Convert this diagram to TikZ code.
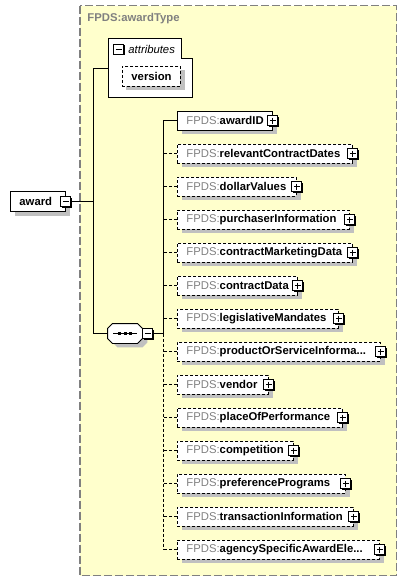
\documentclass[tikz,border=0pt]{standalone}
\usepackage{fontspec}
\setmainfont{Liberation Sans}
\usetikzlibrary{positioning, shadows}

\definecolor{typeyellow}{RGB}{255,255,204}
\definecolor{prefixgray}{RGB}{128,128,128}
\definecolor{shadowgray}{RGB}{192,192,192}
\definecolor{bordergray}{RGB}{128,128,128}

\newcommand{\fpds}[1]{\mbox{\textcolor{prefixgray}{FPDS:}\textbf{#1}}}
\newcommand{\tdots}{...}

\tikzset{
    boxshadow/.style={general shadow={shadow xshift=5pt, shadow yshift=-4pt, fill=shadowgray}},
    elembox/.style={draw, fill=white, line width=0.9pt, boxshadow, minimum height=19pt,
        inner xsep=9pt, inner ysep=0pt, anchor=west, align=left},
    optbox/.style={elembox, dash pattern=on 3pt off 2pt},
    optline/.style={line width=0.9pt, dash pattern=on 3pt off 2pt},
    expander/.style={draw, solid, fill=white, line width=0.9pt, minimum size=10pt, inner sep=0pt,
        general shadow={shadow xshift=1pt, shadow yshift=-1pt, fill=black}},
    minusbox/.style={expander, path picture={
        \draw[solid, line width=0.9pt] ([xshift=2pt]path picture bounding box.west)
            -- ([xshift=-2pt]path picture bounding box.east);}},
    plusbox/.style={expander, path picture={
        \draw[solid, line width=0.9pt] ([xshift=2pt]path picture bounding box.west)
            -- ([xshift=-2pt]path picture bounding box.east)
            ([yshift=-2pt]path picture bounding box.north)
            -- ([yshift=2pt]path picture bounding box.south);}},
}

\begin{document}
\begin{tikzpicture}[x=1pt, y=-1pt, line width=0.9pt,
    every node/.style={font=\fontsize{11.3}{13}\selectfont}]
\useasboundingbox (0,0) rectangle (407,581);

% complex type frame
\draw[bordergray, fill=typeyellow, line width=1.3pt, dash pattern=on 8pt off 3pt]
    (80,5.5) rectangle (396.5,575.5);
\node[anchor=west, text=prefixgray, inner sep=0pt] (typetitle) at (87,19) {\textbf{FPDS:awardType}};

% attributes group
\draw[fill=white] (108,38) -- (181,38) -- (181,58) -- (192,58) -- (192,97) -- (108,97) -- cycle;
\coordinate (attr) at (108,68);
\node[minusbox] (attrmin) at (118.7,49.3) {};
\node[anchor=west, inner sep=0pt] (attrlabel) at (128,49) {\itshape attributes};
\node[elembox, dash pattern=on 3pt off 2pt, minimum height=20pt, text width=40pt,
    general shadow={shadow xshift=4pt, shadow yshift=-4pt, fill=shadowgray}]
    (version) at (122,76) {\textbf{version}};

% root element
\node[elembox, text width=37pt, minimum height=20pt] (award) at (10,201.5) {\textbf{award}};
\node[minusbox] (awardmin) at (award.east) {};
\coordinate (fork) at (93,201.5);
\draw (awardmin.east) -- (fork);
\draw (attr) -| (fork);

% sequence compositor
\node[minimum width=34pt, minimum height=19pt, inner sep=0pt] (seq) at (125,333.5) {};
\draw[fill=white, boxshadow] ([yshift=-5pt]seq.north west) -- ([xshift=5pt]seq.north west)
    -- ([xshift=-5pt]seq.north east) -- ([yshift=-5pt]seq.north east)
    -- ([yshift=5pt]seq.south east) -- ([xshift=-5pt]seq.south east)
    -- ([xshift=5pt]seq.south west) -- ([yshift=5pt]seq.south west) -- cycle;
\draw[line width=0.7pt] ([xshift=-12pt]seq.center) -- ([xshift=12pt]seq.center);
\foreach \d in {-5.5,0,5.5}
    \fill ([xshift=\d pt-1.5pt, yshift=1.5pt]seq.center) rectangle ++(3,3);
\node[minusbox, anchor=west] (seqmin) at (seq.east) {};
\draw (fork) |- (seq.west);
\coordinate (spine) at (163,333.5);
\draw (seqmin.east) -- (spine);

% children
\node[elembox, text width=77pt] (c0) at (177,120.5) {\fpds{awardID}};
\node[plusbox] (c0plus) at (c0.east) {};
\draw (c0.west) -| (spine);
\foreach \elname/\rx [count=\i from 1] in {
    relevantContractDates/352, dollarValues/296, purchaserInformation/349,
    contractMarketingData/352, contractData/297, legislativeMandates/338,
    productOrServiceInforma\tdots/380, vendor/268, placeOfPerformance/342,
    competition/293, preferencePrograms/345, transactionInformation/353,
    agencySpecificAwardEle\tdots/379}{
    \pgfmathsetmacro\tw{\rx-195}
    \node[optbox, text width=\tw pt] (c\i) at (177,120.5+33*\i) {\fpds{\elname}};
    \node[plusbox] (c\i plus) at (c\i.east) {};
    \draw[optline] (c\i.west) -- (c\i.west -| spine);
}
\draw[optline] (spine) -- (c13.west -| spine);
\end{tikzpicture}
\end{document}
